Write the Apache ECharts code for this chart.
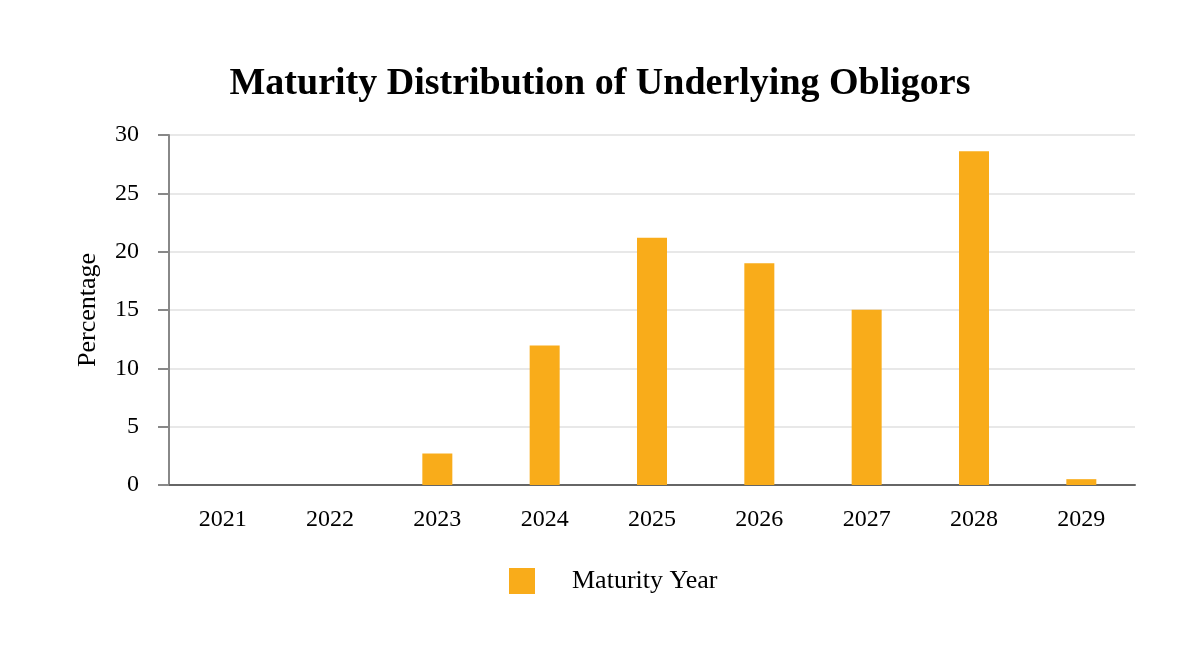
<!DOCTYPE html>
<html><head><meta charset="utf-8">
<script src="https://cdn.jsdelivr.net/npm/echarts@6/dist/echarts.min.js"></script>
<style>html,body{margin:0;padding:0;background:#fff}#c{width:1200px;height:670px}</style>
</head><body><div id="c"></div>
<script>
const categories = ['2021','2022','2023','2024','2025','2026','2027','2028','2029'];
const maturityYear = [0, 0, 2.7, 11.95, 21.2, 19.0, 15.03, 28.6, 0.5];
const yTicks = [0, 5, 10, 15, 20, 25, 30];
const F = '"Liberation Serif", "Times New Roman", serif';
const chart = echarts.init(document.getElementById('c'));
chart.setOption({
  animation: false,
  textStyle: {fontFamily: F},
  title: {text: 'Maturity Distribution of Underlying Obligors', left: 'center', top: 60,
    textStyle: {fontFamily: F, fontSize: 38, fontWeight: 'bold', color: '#000'}},
  legend: {top: 563, left: 504, itemWidth: 26, itemHeight: 26, itemGap: 20,
    textStyle: {fontFamily: F, fontSize: 26, color: '#000', padding: [0,0,0,32]},
    data: [{name: 'Maturity Year', icon: 'rect'}]},
  grid: {left: 169, right: 65, top: 135, bottom: 185, containLabel: false},
  xAxis: {type: 'category', data: categories,
    axisLine: {lineStyle: {color: '#666', width: 2}},
    axisTick: {alignWithLabel: true, length: 10, lineStyle: {color: '#888', width: 2}},
    axisLabel: {fontFamily: F, fontSize: 24, color: '#000', margin: 23}},
  yAxis: {type: 'value', min: yTicks[0], max: yTicks[yTicks.length-1], interval: 5,
    name: 'Percentage', nameLocation: 'middle', nameGap: 68, nameRotate: 90,
    nameTextStyle: {fontFamily: F, fontSize: 26, color: '#000'},
    axisLine: {show: true, lineStyle: {color: '#888', width: 2}},
    axisTick: {show: true, length: 11, lineStyle: {color: '#888', width: 2}},
    axisLabel: {fontFamily: F, fontSize: 24, color: '#000', margin: 30},
    splitLine: {lineStyle: {color: '#e8e8e8', width: 2}}},
  series: [{name: 'Maturity Year', type: 'bar', data: maturityYear, barWidth: 30,
    itemStyle: {color: '#F9AC1A'}}]
});
</script></body></html>
